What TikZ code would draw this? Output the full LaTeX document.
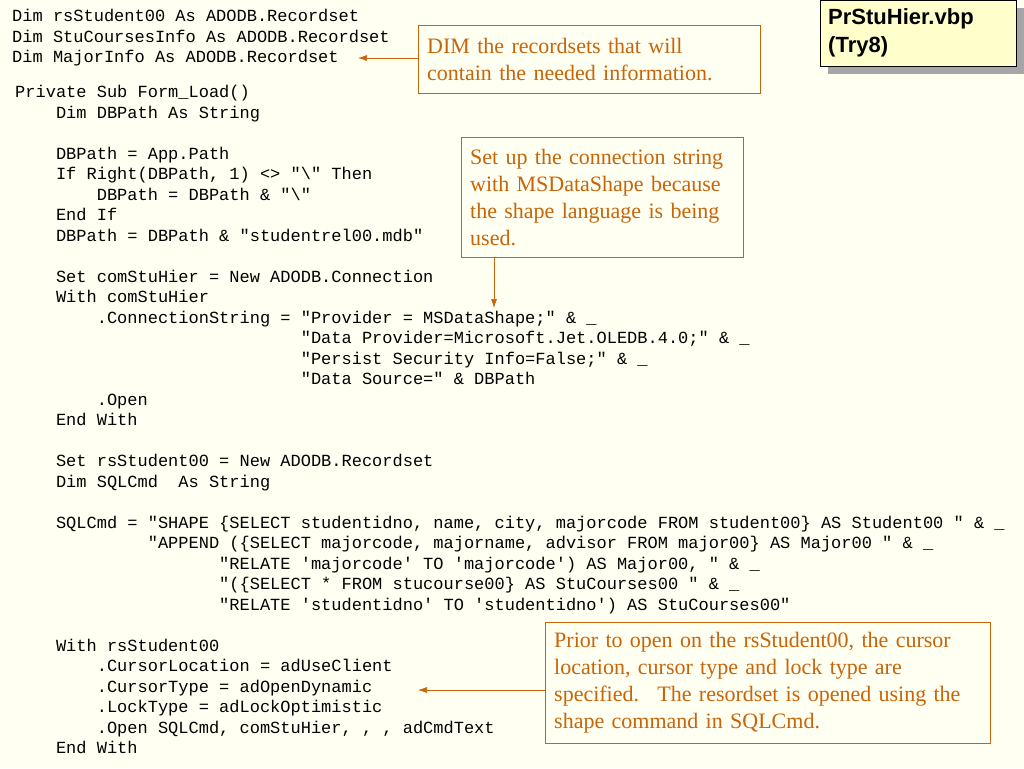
\documentclass[tikz,border=0pt]{standalone}
\usepackage{fontspec}
\setmainfont{Liberation Serif}
\setsansfont{Liberation Sans}
\setmonofont{Liberation Mono}
\usetikzlibrary{positioning,arrows.meta}
\definecolor{pagebg}{HTML}{FFFFF2}
\definecolor{notecol}{HTML}{C8640A}
\definecolor{titlebg}{HTML}{FFFFCC}
\newcommand{\ind}[1]{\hspace*{#1\dimexpr 0.6em\relax}}
\begin{document}
\begin{tikzpicture}[x=1pt,y=-1pt,
  code/.style={anchor=north west, inner sep=0pt, align=left,
    font=\fontsize{17}{20.5}\selectfont\ttfamily},
  note/.style={draw=notecol, fill=pagebg, text=notecol, anchor=north west, align=left,
    inner xsep=9pt, inner ysep=8pt, font=\fontsize{22}{27}\selectfont},
  link/.style={draw=notecol, semithick, -{Latex[length=9pt,width=6pt]}}]
\useasboundingbox[fill=pagebg] (0,0) rectangle (1024,768);
%% Code
\node[code] (dims) at (12,9) {Dim rsStudent00 As ADODB.Recordset\\
Dim StuCoursesInfo As ADODB.Recordset\\
Dim MajorInfo As ADODB.Recordset};
\node[code] (sub) at (15,85) {Private Sub Form\_Load()\\
\ind{4}Dim DBPath As String\\
\mbox{}\\
\ind{4}DBPath = App.Path\\
\ind{4}If Right(DBPath, 1) <> "\textbackslash" Then\\
\ind{8}DBPath = DBPath \& "\textbackslash"\\
\ind{4}End If\\
\ind{4}DBPath = DBPath \& "studentrel00.mdb"\\
\mbox{}\\
\ind{4}Set comStuHier = New ADODB.Connection\\
\ind{4}With comStuHier\\
\ind{8}.ConnectionString = "Provider = MSDataShape;" \& \_\\
\ind{28}"Data Provider=Microsoft.Jet.OLEDB.4.0;" \& \_\\
\ind{28}"Persist Security Info=False;" \& \_\\
\ind{28}"Data Source=" \& DBPath\\
\ind{8}.Open\\
\ind{4}End With\\
\mbox{}\\
\ind{4}Set rsStudent00 = New ADODB.Recordset\\
\ind{4}Dim SQLCmd~~As String\\
\mbox{}\\
\ind{4}SQLCmd = "SHAPE \{SELECT studentidno, name, city, majorcode FROM student00\} AS Student00 " \& \_\\
\ind{13}"APPEND (\{SELECT majorcode, majorname, advisor FROM major00\} AS Major00 " \& \_\\
\ind{20}"RELATE 'majorcode' TO 'majorcode') AS Major00, " \& \_\\
\ind{20}"(\{SELECT * FROM stucourse00\} AS StuCourses00 " \& \_\\
\ind{20}"RELATE 'studentidno' TO 'studentidno') AS StuCourses00"\\
\mbox{}\\
\ind{4}With rsStudent00\\
\ind{8}.CursorLocation = adUseClient\\
\ind{8}.CursorType = adOpenDynamic\\
\ind{8}.LockType = adLockOptimistic\\
\ind{8}.Open SQLCmd, comStuHier, , , adCmdText\\
\ind{4}End With};
%% Title
\fill[gray!70] (828,8) rectangle (1024,74);
\node[draw, fill=titlebg, anchor=north west, minimum width=196pt, minimum height=66pt,
  text width=180pt, align=left, inner xsep=8pt, font=\fontsize{22}{28}\selectfont\sffamily\bfseries]
  (title) at (820,0) {PrStuHier.vbp\\(Try8)};
%% Notes
\node[note, text width=324pt, minimum height=68pt] (recnote) at (418,25) {DIM the recordsets that will\\contain the needed information.};
\node[note, text width=264pt, minimum height=120pt] (connnote) at (461,137) {Set up the connection string\\with MSDataShape because\\the shape language is being\\used.};
\node[note, text width=427pt, minimum height=121pt, inner ysep=10pt] (opennote) at (545,622) {Prior to open on the rsStudent00, the cursor\\location, cursor type and lock type are\\specified.~ The resordset is opened using the\\shape command in SQLCmd.};
\coordinate (recend) at (358,58);
\coordinate (connend) at (494,308);
\coordinate (openend) at (418,690);
%% Arrows
\draw[link] (recnote.west |- recend) -- (recend);
\draw[link] (connnote.south -| connend) -- (connend);
\draw[link] (opennote.west |- openend) -- (openend);
\end{tikzpicture}
\end{document}
